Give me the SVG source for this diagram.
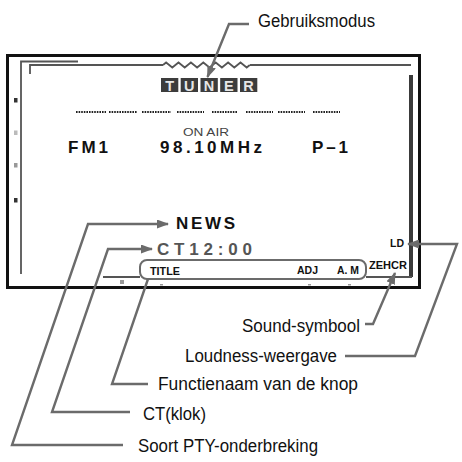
<svg xmlns="http://www.w3.org/2000/svg" width="462" height="462" viewBox="0 0 462 462">
<style>
.lbl{font-family:"Liberation Sans",Arial,sans-serif;font-size:17.5px;fill:#111}
.disp{font-family:"Liberation Sans",Arial,sans-serif;font-weight:bold;fill:#111}
.small{font-family:"Liberation Sans",Arial,sans-serif;font-weight:bold;font-size:11px;fill:#111}
.conn{fill:none;stroke:#6b6b6b;stroke-width:2.4;stroke-linejoin:miter}
.inner{fill:none;stroke:#555;stroke-width:1.8}
.dots{stroke:#222;stroke-width:2;stroke-dasharray:1.6 1}
.tbox{fill:#3c3c3c}
.tlet{font-family:"Liberation Sans",Arial,sans-serif;font-weight:bold;font-size:14.5px;fill:#e6e6e6;text-anchor:middle}
</style>
<defs>
<marker id="ah" markerUnits="userSpaceOnUse" markerWidth="12" markerHeight="9" refX="11" refY="4.5" orient="auto">
<path d="M0,0 L12,4.5 L0,9 z" fill="#6b6b6b"/>
</marker>
</defs>

<g id="display">
<rect x="7.5" y="55.5" width="412" height="232" fill="none" stroke="#111" stroke-width="3"/>
<path class="inner" d="M78,61.5 H21 V274"/>
<path class="inner" d="M30,74 V65 H163 M250,65 H411"/>
<path class="inner" d="M163,65 l3.1,-2.5 l3.1,2.5 l3.1,2.5 l3.1,-2.5 l3.1,-2.5 l3.1,2.5 l3.1,2.5 l3.1,-2.5 l3.1,-2.5 l3.1,2.5 l3.1,2.5 l3.1,-2.5 l3.1,-2.5 l3.1,2.5 l3.1,2.5 l3.1,-2.5 l3.1,-2.5 l3.1,2.5 l3.1,2.5 l3.1,-2.5 l3.1,-2.5 l3.1,2.5 l3.1,2.5 l3.1,-2.5 l3.1,-2.5 l3.1,2.5 l3.1,2.5 l3.1,-2.5"/>
<rect x="409" y="75" width="4" height="202" fill="#3a3a3a"/>
<path class="inner" d="M103,277 H140 M366,277 H412"/>
<rect x="14" y="98" width="3.5" height="4.5" fill="#333"/>
<rect x="14" y="130.5" width="3.5" height="4.5" fill="#bbb"/>
<rect x="14" y="163" width="3.5" height="4.5" fill="#999"/>
<rect x="14" y="198" width="3.5" height="4.5" fill="#333"/>
<rect x="120" y="280" width="4" height="4" fill="#999"/>
<rect x="160" y="284" width="3" height="1.5" fill="#999"/>
<rect x="308" y="284" width="3" height="1.5" fill="#999"/>
<rect x="348" y="284" width="3" height="1.5" fill="#999"/>
</g>

<g id="tuner">
<rect class="tbox" x="161" y="78" width="17.3" height="14"/>
<rect class="tbox" x="180.7" y="78" width="17.3" height="14"/>
<rect class="tbox" x="200.5" y="78" width="17.3" height="14"/>
<rect class="tbox" x="220.2" y="78" width="17.3" height="14"/>
<rect class="tbox" x="240" y="78" width="17.3" height="14"/>
<text class="tlet" x="169.6" y="90.5">T</text>
<text class="tlet" x="189.3" y="90.5">U</text>
<text class="tlet" x="209.1" y="90.5">N</text>
<text class="tlet" x="228.8" y="90.5">E</text>
<text class="tlet" x="248.6" y="90.5">R</text>
</g>

<g id="dotline">
<line class="dots" x1="76" y1="112" x2="106" y2="112"/>
<line class="dots" x1="109" y1="112" x2="137" y2="112"/>
<line class="dots" x1="142" y1="112" x2="171" y2="112"/>
<line class="dots" x1="177" y1="112" x2="204" y2="112"/>
<line class="dots" x1="212" y1="112" x2="238" y2="112"/>
<line class="dots" x1="246" y1="112" x2="273" y2="112"/>
<line class="dots" x1="278" y1="112" x2="305" y2="112"/>
<line class="dots" x1="313" y1="112" x2="340" y2="112"/>
</g>

<g id="onair"><text x="183" y="136" textLength="46" lengthAdjust="spacingAndGlyphs" style="font-family:'Liberation Sans',Arial,sans-serif;font-size:11px;fill:#444">ON AIR</text></g>
<g id="band"><text class="disp" x="68" y="152.5" font-size="17" textLength="40" lengthAdjust="spacing">FM1</text></g>
<g id="freq"><text class="disp" x="160" y="152.5" font-size="17" textLength="102" lengthAdjust="spacing">98.10MHz</text></g>
<g id="preset"><text class="disp" x="312" y="152.5" font-size="17" textLength="36" lengthAdjust="spacing">P–1</text></g>
<g id="news"><text class="disp" x="176" y="229" font-size="17" textLength="59" lengthAdjust="spacing">NEWS</text></g>
<g id="ct"><text class="disp" x="157" y="255" font-size="17" textLength="95" lengthAdjust="spacing" style="fill:#555">CT12:00</text></g>

<g id="funcbox">
<rect x="140" y="260" width="226" height="19" rx="7" fill="none" stroke="#6b6b6b" stroke-width="2"/>
<text class="small" x="150" y="275" font-size="12" textLength="30" lengthAdjust="spacingAndGlyphs">TITLE</text>
<text class="small" x="297" y="274" textLength="21" lengthAdjust="spacingAndGlyphs">ADJ</text>
<text class="small" x="337" y="274" textLength="22" lengthAdjust="spacingAndGlyphs">A. M</text>
</g>
<g id="zehcr"><text class="small" x="369" y="268.5" textLength="38" lengthAdjust="spacingAndGlyphs">ZEHCR</text></g>
<g id="ld"><text class="small" x="390" y="247" textLength="14" lengthAdjust="spacingAndGlyphs">LD</text></g>

<g id="connectors">
<polyline class="conn" points="249,24 229,24 207.5,77" marker-end="url(#ah)"/>
<polyline class="conn" points="123,445 12,445 88,224 168,224" marker-end="url(#ah)"/>
<polyline class="conn" points="130,412 52,412 108,249 152,249" marker-end="url(#ah)"/>
<polyline class="conn" points="148,384 112,384 148,279"/>
<polyline class="conn" points="345,356 415,356 457,244 408,244" marker-end="url(#ah)"/>
<polyline class="conn" points="365,324 373,324 395,273" marker-end="url(#ah)"/>
</g>

<g id="labels">
<text class="lbl" x="258" y="26.5" textLength="117" lengthAdjust="spacingAndGlyphs">Gebruiksmodus</text>
<text class="lbl" x="242" y="331.5" textLength="118" lengthAdjust="spacingAndGlyphs">Sound-symbool</text>
<text class="lbl" x="185" y="362" textLength="152" lengthAdjust="spacingAndGlyphs">Loudness-weergave</text>
<text class="lbl" x="158" y="390" textLength="200" lengthAdjust="spacingAndGlyphs">Functienaam van de knop</text>
<text class="lbl" x="143" y="419.5" textLength="63" lengthAdjust="spacingAndGlyphs">CT(klok)</text>
<text class="lbl" x="138" y="451.5" textLength="180" lengthAdjust="spacingAndGlyphs">Soort PTY-onderbreking</text>
</g>
</svg>
